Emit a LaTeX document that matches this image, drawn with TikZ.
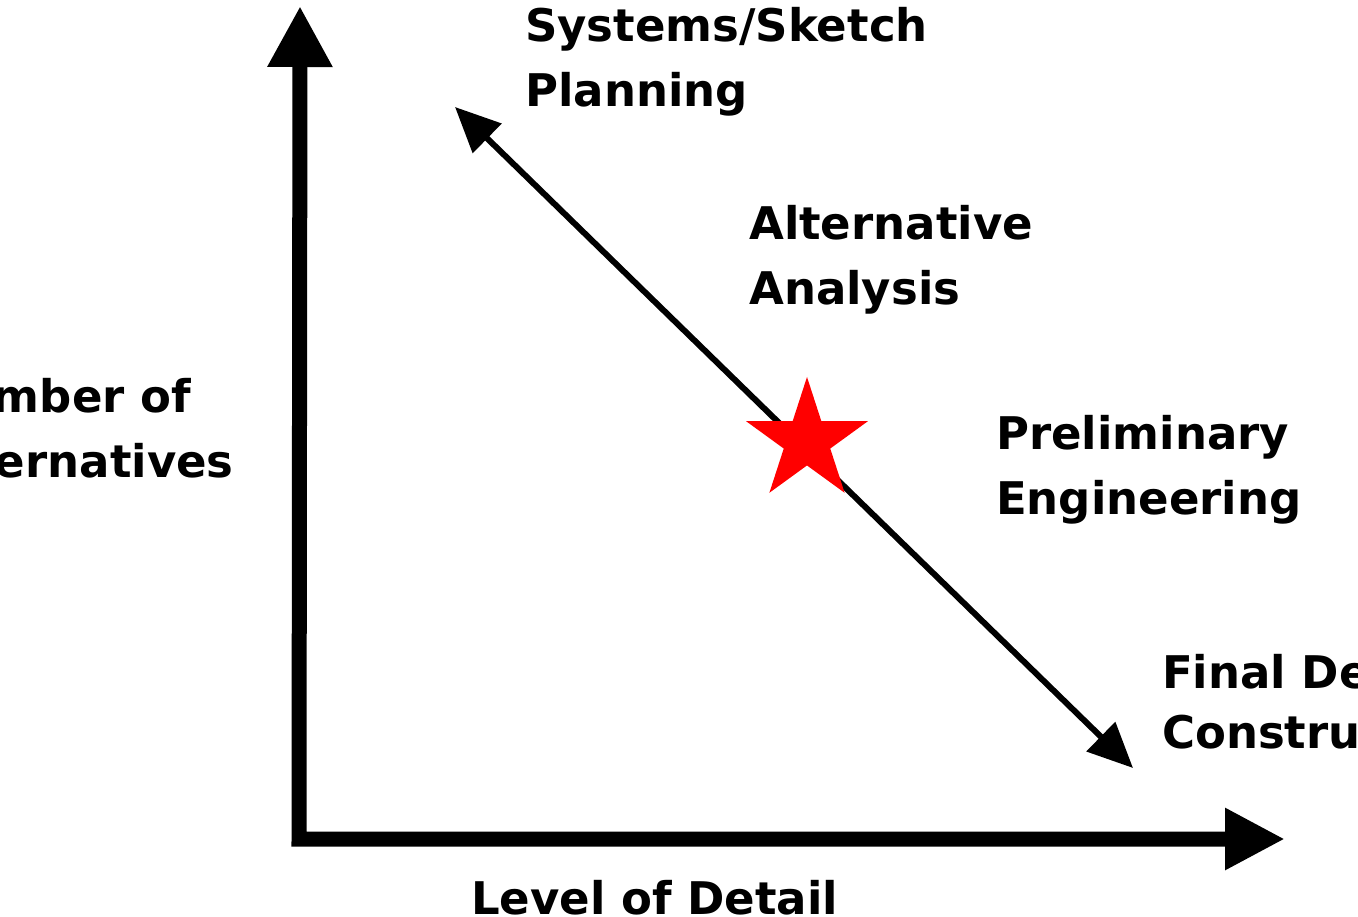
\documentclass[tikz,border=0pt]{standalone}
\usepackage{fontspec}
\setmainfont{DejaVu Sans}
\usetikzlibrary{arrows.meta,shapes.geometric}

\begin{document}
\begin{tikzpicture}[x=1pt, y=-1pt,
		axis/.style={line width=15pt, line join=miter},
		trend/.style={line width=6pt, {Triangle[length=45pt,width=40pt]}-{Triangle[length=45pt,width=40pt]}},
		phase/.style={inner sep=0pt, anchor=base west, align=left, font=\fontsize{45}{65}\selectfont\bfseries}]
		%%%%% START %%%%%
		
		\useasboundingbox (0, 0) rectangle (1358, 917);
		\clip (0, 0) rectangle (1358, 917);
		
		\coordinate (origin) at (299, 839);
		\coordinate (ytip) at (300, 6);
		\coordinate (xtip) at (1285, 839);
		
		\draw[axis, {Triangle[length=61pt,width=61pt]}-{Triangle[length=60pt,width=58pt]}] (ytip) -- (origin) -- (xtip);
		
		\coordinate (sketch) at (455, 107);
		\coordinate (design) at (1133, 768);
		\draw[trend] (sketch) -- (design);
		
		\node[star, star points=5, star point ratio=2.618, minimum size=128pt, inner sep=0pt, fill=red] (here) at (807, 441) {};
		
		% last line is the base
		\node[phase] (plan) at (525, 107) {Systems/Sketch\\Planning};
		\node[phase] (alt) at (749, 305) {Alternative\\Analysis};
		\node[phase] (prelim) at (996, 514) {Preliminary\\Engineering};
		\node[phase, font=\fontsize{45}{60}\selectfont\bfseries] (final) at (1162, 748) {Final Design/\\Construction};
		
		\node[phase] (ylabel) at (-77, 477) {Number of\\Alternatives};
		\node[phase] (xlabel) at (471, 914) {Level of Detail};
		
		%%%%% END %%%%%
\end{tikzpicture}
\end{document}
